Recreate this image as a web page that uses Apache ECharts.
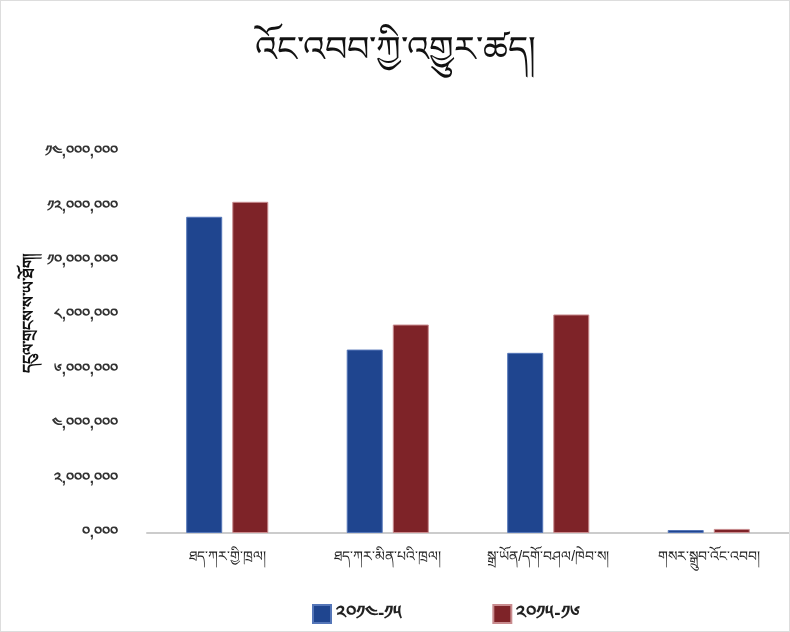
<!DOCTYPE html>
<html><head><meta charset="utf-8">
<script src="https://cdn.jsdelivr.net/npm/echarts@6/dist/echarts.min.js"></script>
<style>html,body{margin:0;padding:0;background:#fff}#c{width:788px;height:630px;border:1px solid #ddd}</style>
</head><body><div id="c"></div>
<script>
var titleText = 'འོང་འབབ་ཀྱི་འགྱུར་ཚད།';
var yAxisTitle = 'དངུལ་གྲངས་ས་ཡ་ཐོག།';
var categories = ['ཐད་ཀར་གྱི་ཁྲལ།', 'ཐད་ཀར་མིན་པའི་ཁྲལ།', 'སྒྲ་ཡོན/དགོ་བཤལ/ཁེབ་ས།', 'གསར་སྒྲུབ་འོང་འབབ།'];
var seriesNames = ['༢༠༡༤-༡༥', '༢༠༡༥-༡༦'];
var values2014 = [11620000, 6740000, 6620000, 110000];
var values2015 = [12170000, 7660000, 8030000, 150000];
var yTickLabels = ['༠,༠༠༠', '༢,༠༠༠,༠༠༠', '༤,༠༠༠,༠༠༠', '༦,༠༠༠,༠༠༠', '༨,༠༠༠,༠༠༠', '༡༠,༠༠༠,༠༠༠', '༡༢,༠༠༠,༠༠༠', '༡༤,༠༠༠,༠༠༠'];
var yStep = 2000000;

var chart = echarts.init(document.getElementById('c'));
chart.setOption({
  animation: false,
  title: {text: titleText, left: 'center', top: 28, textStyle: {fontSize: 35, fontWeight: 'normal', color: '#111'}},
  legend: {bottom: 2, left: 306, itemWidth: 18, itemHeight: 18, itemGap: 90, icon: 'rect',
    textStyle: {fontSize: 19, fontWeight: 'bold', color: '#222'}, data: seriesNames},
  grid: {left: 146, right: -8, top: 151, bottom: 98},
  graphic: [{type: 'text', left: 21, top: 252, rotation: Math.PI / 2, style: {text: yAxisTitle, fontSize: 16, fontWeight: 'bold', fill: '#111'}}],
  xAxis: {type: 'category', data: categories,
    axisLine: {lineStyle: {color: '#ccc', width: 2}}, axisTick: {show: false},
    axisLabel: {color: '#222', fontSize: 14, margin: 17, interval: 0}},
  yAxis: {type: 'value', min: 0, max: 14000000, interval: yStep,
    axisLine: {show: false}, axisTick: {show: false}, splitLine: {show: false},
    axisLabel: {color: '#333', fontSize: 15, fontWeight: 'bold', margin: 29,
      formatter: function (v) { return yTickLabels[Math.round(v / yStep)]; }}},
  series: [
    {name: seriesNames[0], type: 'bar', data: values2014, barWidth: 36, barGap: '28%',
      itemStyle: {color: '#1f458f', borderColor: '#5576b8', borderWidth: 1}},
    {name: seriesNames[1], type: 'bar', data: values2015, barWidth: 36,
      itemStyle: {color: '#7e2328', borderColor: '#c98c8f', borderWidth: 1}}
  ]
});
</script></body></html>
